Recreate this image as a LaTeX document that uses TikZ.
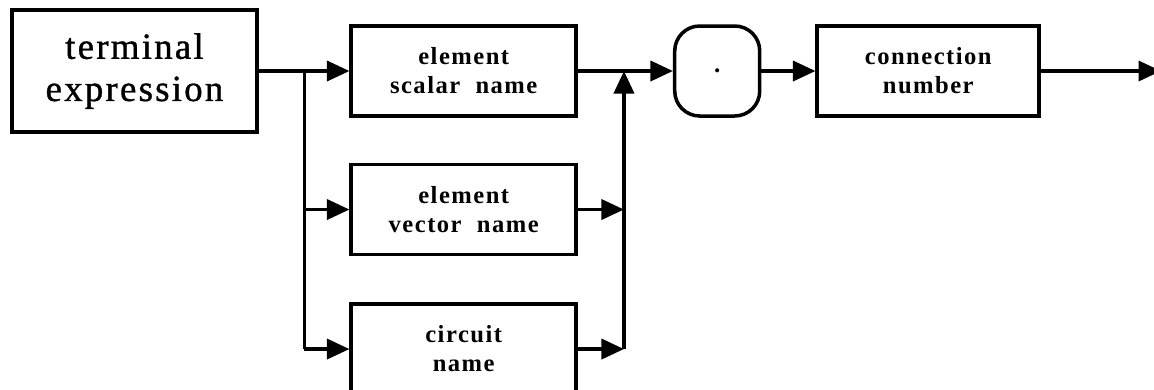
\documentclass[tikz,border=0pt]{standalone}
\usepackage{fontspec}
\setmainfont{Liberation Serif}
\newfontfamily\bigspaced[LetterSpace=6, FakeBold=1]{Liberation Serif}
\newfontfamily\smallspaced[LetterSpace=6]{Liberation Serif}
\usetikzlibrary{positioning, arrows.meta}
\tikzset{
  termbox/.style ={rectangle, draw, line width=2.8pt,
    minimum width=4.9cm, minimum height=2.44cm,
    align=center, font=\bigspaced\fontsize{21}{24}\selectfont},
  namebox/.style ={rectangle, draw, line width=2pt,
    minimum width=4.5cm, minimum height=1.8cm,
    align=center, font=\smallspaced\bfseries\fontsize{14}{16.5}\selectfont},
  symbox/.style  ={rectangle, draw, line width=2pt, rounded corners=0.5cm,
    minimum width=1.7cm, minimum height=1.8cm, font=\bfseries\Large},
  arrow/.style={line width=2pt, -{Triangle[length=0.45cm, width=0.4cm]}},
  line/.style={line width=2pt},
}
\begin{document}
\begin{tikzpicture}
  \useasboundingbox (0,0) rectangle (23.08,-7.78);

  \node[termbox] at (2.69,-1.42)          (term)    {terminal\\expression};
  \node[namebox, right=1.8cm of term]     (scalar)  {element\\scalar\ \ name};
  \node[namebox, below=0.9cm of scalar]   (vector)  {element\\vector\ \ name};
  \node[namebox, below=0.92cm of vector]  (circuit) {circuit\\name};
  \node[symbox,  right=1.9cm of scalar]   (dot)     {.};
  \node[namebox, right=1.08cm of dot, minimum width=4.44cm] (conn) {connection\\number};

  \coordinate[right=0.9cm of term.east]     (split);
  \coordinate[right=0.92cm of scalar.east]  (join);
  \coordinate[right=2.4cm of conn.east]     (exit);

  % branch out to the three names
  \draw[arrow] (term.east) -- (scalar.west);
  \draw[line]  (split) -- (split |- circuit.west);
  \draw[arrow] (split |- vector.west) -- (vector.west);
  \draw[arrow] (split |- circuit.west) -- (circuit.west);

  % merge back to the main line
  \draw[arrow] (vector.east) -- (vector.east -| join);
  \draw[arrow] (circuit.east) -- (circuit.east -| join);
  \draw[arrow] (circuit.east -| join) -- (join);

  \draw[arrow] (scalar.east) -- (dot.west);
  \draw[arrow] (dot.east) -- (conn.west);
  \draw[arrow] (conn.east) -- (exit);

\end{tikzpicture}
\end{document}
